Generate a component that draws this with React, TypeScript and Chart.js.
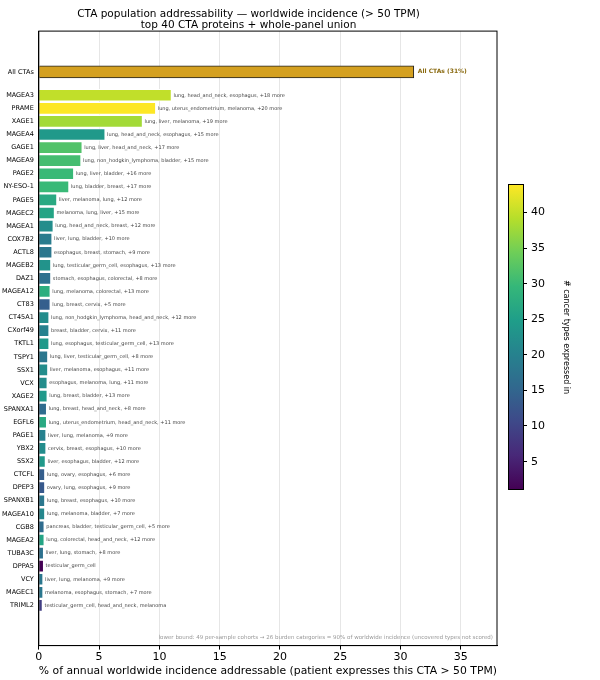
import { useEffect, useRef } from "react"
import { Chart, registerables } from "chart.js"

Chart.register(...registerables)

const genes = ["MAGEA3", "PRAME", "XAGE1", "MAGEA4", "GAGE1", "MAGEA9", "PAGE2", "NY-ESO-1", "PAGE5", "MAGEC2",
  "MAGEA1", "COX7B2", "ACTL8", "MAGEB2", "DAZ1", "MAGEA12", "CT83", "CT45A1", "CXorf49", "TKTL1",
  "TSPY1", "SSX1", "VCX", "XAGE2", "SPANXA1", "EGFL6", "PAGE1", "YBX2", "SSX2", "CTCFL",
  "DPEP3", "SPANXB1", "MAGEA10", "CGB8", "MAGEA2", "TUBA3C", "DPPA5", "VCY", "MAGEC1", "TRIML2"]
const pct = [11.0, 9.7, 8.6, 5.5, 3.6, 3.5, 2.9, 2.5, 1.5, 1.3,
  1.2, 1.1, 1.1, 1.0, 1.0, 0.95, 0.95, 0.85, 0.85, 0.85,
  0.75, 0.75, 0.7, 0.7, 0.65, 0.65, 0.6, 0.6, 0.55, 0.5,
  0.5, 0.5, 0.5, 0.45, 0.45, 0.4, 0.4, 0.35, 0.35, 0.3]
const nTypes = [40, 44, 38, 24, 32, 31, 30, 30, 27, 26,
  22, 19, 18, 23, 17, 28, 14, 22, 20, 24,
  18, 22, 22, 24, 16, 27, 20, 22, 24, 14,
  13, 18, 21, 16, 26, 17, 1, 18, 18, 9]
const notes = [
  "lung, head_and_neck, esophagus, +18 more", "lung, uterus_endometrium, melanoma, +20 more",
  "lung, liver, melanoma, +19 more", "lung, head_and_neck, esophagus, +15 more",
  "lung, liver, head_and_neck, +17 more", "lung, non_hodgkin_lymphoma, bladder, +15 more",
  "lung, liver, bladder, +16 more", "lung, bladder, breast, +17 more",
  "liver, melanoma, lung, +12 more", "melanoma, lung, liver, +15 more",
  "lung, head_and_neck, breast, +12 more", "liver, lung, bladder, +10 more",
  "esophagus, breast, stomach, +9 more", "lung, testicular_germ_cell, esophagus, +13 more",
  "stomach, esophagus, colorectal, +8 more", "lung, melanoma, colorectal, +13 more",
  "lung, breast, cervix, +5 more", "lung, non_hodgkin_lymphoma, head_and_neck, +12 more",
  "breast, bladder, cervix, +11 more", "lung, esophagus, testicular_germ_cell, +13 more",
  "lung, liver, testicular_germ_cell, +8 more", "liver, melanoma, esophagus, +11 more",
  "esophagus, melanoma, lung, +11 more", "lung, breast, bladder, +13 more",
  "lung, breast, head_and_neck, +8 more", "lung, uterus_endometrium, head_and_neck, +11 more",
  "liver, lung, melanoma, +9 more", "cervix, breast, esophagus, +10 more",
  "liver, esophagus, bladder, +12 more", "lung, ovary, esophagus, +6 more",
  "ovary, lung, esophagus, +9 more", "lung, breast, esophagus, +10 more",
  "lung, melanoma, bladder, +7 more", "pancreas, bladder, testicular_germ_cell, +5 more",
  "lung, colorectal, head_and_neck, +12 more", "liver, lung, stomach, +8 more",
  "testicular_germ_cell", "liver, lung, melanoma, +9 more",
  "melanoma, esophagus, stomach, +7 more", "testicular_germ_cell, head_and_neck, melanoma",
]
const allLabel = "All CTAs"
const allPct = 31.1
const xTicks = [0, 5, 10, 15, 20, 25, 30, 35]
const cbTicks = [5, 10, 15, 20, 25, 30, 35, 40]
const cbMin = 1
const cbMax = 44

const VIRIDIS = ["#440154", "#482878", "#3e4989", "#31688e", "#26828e", "#1f9e89", "#35b779", "#6ece58", "#b5de2b", "#fde725"]
function hex(h: string) { return [1, 3, 5].map((i) => parseInt(h.slice(i, i + 2), 16)) }
function viridis(t: number) {
  t = Math.max(0, Math.min(1, t))
  const p = t * (VIRIDIS.length - 1)
  const i = Math.min(Math.floor(p), VIRIDIS.length - 2)
  const f = p - i
  const a = hex(VIRIDIS[i]), b = hex(VIRIDIS[i + 1])
  const c = a.map((v, k) => Math.round(v + (b[k] - v) * f))
  return `rgb(${c[0]},${c[1]},${c[2]})`
}

const ALL_POS = -1.79
const FONT = "'DejaVu Sans', sans-serif"

export default function App() {
  const chartRef = useRef<HTMLCanvasElement>(null)
  const chartInstance = useRef<Chart | null>(null)

  useEffect(() => {
    if (!chartRef.current) return
    if (chartInstance.current) chartInstance.current.destroy()
    const ctx = chartRef.current.getContext("2d")
    if (!ctx) return

    const data = [{ x: allPct, y: ALL_POS }, ...pct.map((v, i) => ({ x: v, y: i }))]
    const colors = ["#d4a020", ...nTypes.map((n) => viridis((n - cbMin) / (cbMax - cbMin)))]
    const labelAt = (v: number) => (Math.abs(v - ALL_POS) < 0.01 ? allLabel : genes[Math.round(v)])

    const annot = {
      id: "annot",
      afterDatasetsDraw(chart: any) {
        const c = chart.ctx
        const xs = chart.scales.x, ys = chart.scales.y
        const a = chart.chartArea
        c.save()
        c.strokeStyle = "#000"
        c.lineWidth = 1
        c.strokeRect(a.left, a.top, a.right - a.left, a.bottom - a.top)
        c.textBaseline = "middle"
        c.font = `bold 6px ${FONT}`
        c.fillStyle = "#8a6a10"
        c.fillText("All CTAs (31%)", xs.getPixelForValue(allPct) + 4, ys.getPixelForValue(ALL_POS))
        c.font = `5px ${FONT}`
        c.fillStyle = "#444"
        pct.forEach((v, i) => c.fillText(notes[i], xs.getPixelForValue(v) + 2, ys.getPixelForValue(i)))
        c.font = `5.5px ${FONT}`
        c.fillStyle = "#999"
        c.textAlign = "right"
        c.fillText("lower bound: 49 per-sample cohorts \u2192 26 burden categories = 90% of worldwide incidence (uncovered types not scored)",
          a.right - 4, a.bottom - 8)
        c.restore()
      },
    }

    chartInstance.current = new Chart(ctx, {
      type: "bar",
      data: {
        datasets: [{
          data: data as any,
          backgroundColor: colors,
          borderColor: ["#222", ...nTypes.map(() => "#ffffff")],
          borderWidth: 1,
          barThickness: 12,
        }],
      },
      options: {
        indexAxis: "y",
        animation: false,
        responsive: false,
        layout: { padding: { left: 0, right: 103, top: 0, bottom: 0 } },
        plugins: {
          legend: { display: false },
          tooltip: { enabled: false },
          title: {
            display: true,
            text: ["CTA population addressability \u2014 worldwide incidence (> 50 TPM)", "top 40 CTA proteins + whole-panel union"],
            color: "#000",
            font: { family: FONT, size: 10.5, weight: "normal" as any, lineHeight: 1.1 },
            padding: { top: 8, bottom: 0 },
          },
        },
        scales: {
          x: {
            type: "linear",
            min: 0,
            max: 38,
            afterBuildTicks: (s: any) => { s.ticks = xTicks.map((v) => ({ value: v })) },
            ticks: { color: "#000", font: { family: FONT, size: 11 }, maxRotation: 0, padding: 1 },
            grid: { color: "#e6e6e6", drawTicks: true, tickColor: "#000", tickLength: 4 },
            border: { color: "#000" },
            title: {
              display: true,
              text: "% of annual worldwide incidence addressable (patient expresses this CTA > 50 TPM)",
              color: "#000",
              font: { family: FONT, size: 11 },
              padding: { top: 0, bottom: 2 },
            },
          },
          y: {
            type: "linear",
            reverse: true,
            min: -4.33,
            max: 41.5,
            afterBuildTicks: (s: any) => { s.ticks = [ALL_POS, ...genes.map((_, i) => i)].map((v) => ({ value: v })) },
            ticks: {
              color: "#000",
              font: { family: FONT, size: 6.5 },
              autoSkip: false,
              padding: 2,
              callback: (v: any) => labelAt(Number(v)),
            },
            grid: { display: false, drawTicks: true, tickLength: 3, tickColor: "#000" },
            border: { color: "#000" },
          },
        },
      },
      plugins: [annot],
    })

    return () => {
      if (chartInstance.current) chartInstance.current.destroy()
    }
  }, [])

  const cbTop = 184, cbH = 306
  const grad = `linear-gradient(to top, ${VIRIDIS.join(", ")})`

  return (
    <div style={{ position: "absolute", left: 0, top: 0, width: 600, height: 680, background: "#fff", fontFamily: FONT }}>
      <canvas ref={chartRef} width={600} height={680} style={{ position: "absolute", left: 0, top: 0 }}></canvas>
      <div style={{ position: "absolute", left: 508, top: cbTop, width: 16, height: cbH, background: grad, border: "1px solid #000", boxSizing: "border-box" }} />
      {cbTicks.map((t) => {
        const y = cbTop + cbH - ((t - cbMin) / (cbMax - cbMin)) * cbH
        return (
          <div key={t} style={{ position: "absolute", left: 524, top: y - 7, fontSize: 11, lineHeight: "14px", display: "flex", alignItems: "center" }}>
            <span style={{ display: "inline-block", width: 3, height: 1, background: "#000", marginRight: 4 }} />
            {t}
          </div>
        )
      })}
      <div style={{ position: "absolute", left: 566, top: cbTop + cbH / 2, fontSize: 8, whiteSpace: "nowrap", transform: "translate(-50%, -50%) rotate(90deg)" }}>
        # cancer types expressed in
      </div>
    </div>
  )
}
